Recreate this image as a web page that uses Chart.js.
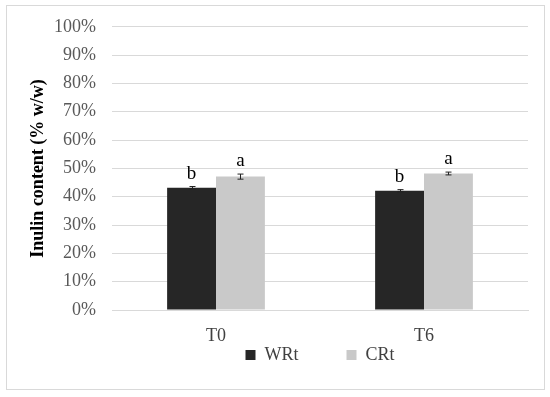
<!DOCTYPE html>
<html>
<head>
<meta charset="utf-8">
<script src="https://cdn.jsdelivr.net/npm/chart.js@4/dist/chart.umd.min.js"></script>
<style>
  html, body { margin: 0; padding: 0; background: #fff; }
  canvas { display: block; }
</style>
</head>
<body>
<canvas id="inulin" width="550" height="397"></canvas>
<script>
const categories = ['T0', 'T6'];
const wrtValues = [43.2, 42.1];
const crtValues = [47.1, 48.2];
const wrtErrors = [0.4, 0.4];
const crtErrors = [0.9, 0.5];
const wrtLetters = ['b', 'b'];
const crtLetters = ['a', 'a'];

const serif = '"Liberation Serif", "Times New Roman", serif';

// error bars + significance letters, placed through the scales
const annotate = {
    id: 'annotate',
    afterDatasetsDraw(chart) {
        const ctx = chart.ctx;
        const yScale = chart.scales.y;
        const errs = [wrtErrors, crtErrors];
        const letters = [wrtLetters, crtLetters];
        ctx.save();
        chart.data.datasets.forEach((ds, di) => {
            const meta = chart.getDatasetMeta(di);
            meta.data.forEach((bar, i) => {
                const v = ds.data[i];
                const yHi = yScale.getPixelForValue(v + errs[di][i]);
                const yLo = yScale.getPixelForValue(v - errs[di][i]);
                const x = Math.round(bar.x) + 0.5;
                ctx.strokeStyle = '#222';
                ctx.lineWidth = 1;
                ctx.beginPath();
                ctx.moveTo(x, yHi); ctx.lineTo(x, yLo);
                ctx.moveTo(x - 3, yHi); ctx.lineTo(x + 3, yHi);
                ctx.moveTo(x - 3, yLo); ctx.lineTo(x + 3, yLo);
                ctx.stroke();
                ctx.fillStyle = '#000';
                ctx.font = '19px ' + serif;
                ctx.textAlign = 'center';
                ctx.textBaseline = 'alphabetic';
                ctx.fillText(letters[di][i], bar.x, yHi - 8);
            });
        });
        ctx.restore();
    }
};

const frame = {
    id: 'frame',
    afterDraw(chart) {
        const ctx = chart.ctx;
        ctx.save();
        ctx.strokeStyle = '#d9d9d9';
        ctx.lineWidth = 1;
        ctx.strokeRect(6.5, 5.5, 538, 384);
        ctx.restore();
    }
};

new Chart(document.getElementById('inulin'), {
    type: 'bar',
    data: {
        labels: categories,
        datasets: [
            {
                label: 'WRt',
                data: wrtValues,
                backgroundColor: '#262626',
                categoryPercentage: 0.47,
                barPercentage: 1.0
            },
            {
                label: 'CRt',
                data: crtValues,
                backgroundColor: '#c9c9c9',
                categoryPercentage: 0.47,
                barPercentage: 1.0
            }
        ]
    },
    options: {
        responsive: false,
        animation: false,
        devicePixelRatio: 1,
        layout: { padding: { top: 10, left: 28, right: 22, bottom: 23 } },
        scales: {
            x: {
                grid: { display: false },
                border: { color: '#d9d9d9' },
                ticks: { color: '#404040', font: { family: serif, size: 18 }, padding: 7 },
                afterFit(scale) { scale.height = 33; }
            },
            y: {
                min: 0,
                max: 100,
                ticks: {
                    stepSize: 10,
                    color: '#595959',
                    font: { family: serif, size: 18 },
                    padding: 16,
                    callback: v => v + '%'
                },
                grid: { color: '#d9d9d9', drawTicks: false },
                border: { display: false },
                title: {
                    display: true,
                    text: 'Inulin content (% w/w)',
                    color: '#000',
                    font: { family: serif, size: 18, weight: 'bold' },
                    padding: 0
                },
                afterFit(scale) { scale.width = 84; }
            }
        },
        plugins: {
            legend: {
                position: 'bottom',
                fullSize: false,
                labels: {
                    boxWidth: 10,
                    boxHeight: 10,
                    color: '#404040',
                    font: { family: serif, size: 18 },
                    padding: 3,
                    generateLabels(chart) {
                        const items = Chart.defaults.plugins.legend.labels.generateLabels(chart);
                        items[0].text = items[0].text + '          ';
                        return items;
                    }
                }
            },
            tooltip: { enabled: false }
        }
    },
    plugins: [annotate, frame]
});
</script>
</body>
</html>
